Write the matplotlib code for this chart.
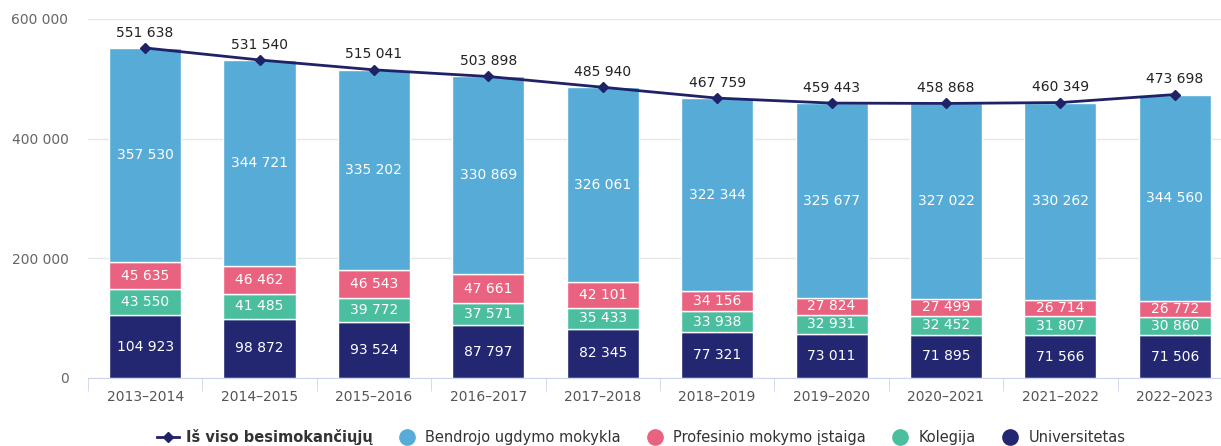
import matplotlib.pyplot as plt
import matplotlib.ticker as ticker
from matplotlib.lines import Line2D
import numpy as np

plt.rcParams['font.family'] = ['DejaVu Sans']

years = ["2013–2014", "2014–2015", "2015–2016", "2016–2017", "2017–2018",
         "2018–2019", "2019–2020", "2020–2021", "2021–2022", "2022–2023"]
universitetas = [104923, 98872, 93524, 87797, 82345, 77321, 73011, 71895, 71566, 71506]
kolegija = [43550, 41485, 39772, 37571, 35433, 33938, 32931, 32452, 31807, 30860]
profesinio = [45635, 46462, 46543, 47661, 42101, 34156, 27824, 27499, 26714, 26772]
bendrojo = [357530, 344721, 335202, 330869, 326061, 322344, 325677, 327022, 330262, 344560]
is_viso = [551638, 531540, 515041, 503898, 485940, 467759, 459443, 458868, 460349, 473698]

series = [
    ("Universitetas", universitetas, "#232670"),
    ("Kolegija", kolegija, "#4cbea0"),
    ("Profesinio mokymo įstaiga", profesinio, "#e9627f"),
    ("Bendrojo ugdymo mokykla", bendrojo, "#56acd7"),
]

def fmt(v):
    return f"{v:,}".replace(",", " ")

fig = plt.figure(figsize=(12.21, 4.46), dpi=100)
ax = fig.add_axes([0.072, 0.1525, 0.937, 0.8049])

x = np.arange(len(years))
bottom = np.zeros(len(years))
for name, vals, color in series:
    ax.bar(x, vals, width=0.63, bottom=bottom, color=color, edgecolor="white",
           linewidth=1, zorder=2)
    for xi, b, v in zip(x, bottom, vals):
        ax.text(xi, b + v / 2, fmt(v), ha="center", va="center", color="white",
                fontsize=10, zorder=3)
    bottom += np.array(vals)

ax.plot(x, is_viso, color="#1f2266", linewidth=2, marker="D", markersize=5, zorder=4)
for xi, v in zip(x, is_viso):
    ax.annotate(fmt(v), (xi, v), xytext=(0, 6), textcoords="offset points",
                ha="center", va="bottom", fontsize=10, color="#222222", zorder=5)

ax.set_xlim(-0.5, len(years) - 0.5)
ax.set_ylim(0, 600000)
ax.yaxis.set_major_locator(ticker.MultipleLocator(200000))
ax.yaxis.set_major_formatter(ticker.FuncFormatter(lambda v, p: fmt(int(v))))
ax.set_xticks(x)
ax.set_xticklabels(years)
ax.set_xticks(np.arange(-0.5, len(years)), minor=True)
ax.tick_params(axis="x", which="major", length=0, pad=9, labelsize=10, labelcolor="#555555")
ax.tick_params(axis="x", which="minor", length=9, color="#ccd6eb", direction="out")
ax.tick_params(axis="y", length=0, pad=14, labelsize=10, labelcolor="#666666")
ax.grid(axis="y", color="#e6e6e6", linewidth=1, zorder=0)
ax.set_axisbelow(True)
for s in ["top", "right", "left"]:
    ax.spines[s].set_visible(False)
ax.spines["bottom"].set_color("#ccd6eb")

handles = [Line2D([], [], color="#1f2266", marker="D", markersize=5, linewidth=2)]
labels = ["Iš viso besimokančiųjų"]
for name, vals, color in reversed(series):
    handles.append(Line2D([], [], linestyle="none", marker="o", markersize=11,
                          markerfacecolor=color, markeredgecolor=color))
    labels.append(name)
leg = fig.legend(handles, labels, loc="center", bbox_to_anchor=(0.525, 0.02), ncol=5,
                 frameon=False, fontsize=10.5, handlelength=1.5, columnspacing=1.6,
                 handletextpad=0.5)
leg.get_texts()[0].set_fontweight("bold")
for t in leg.get_texts():
    t.set_color("#333333")

plt.savefig("out.png", dpi=100)
